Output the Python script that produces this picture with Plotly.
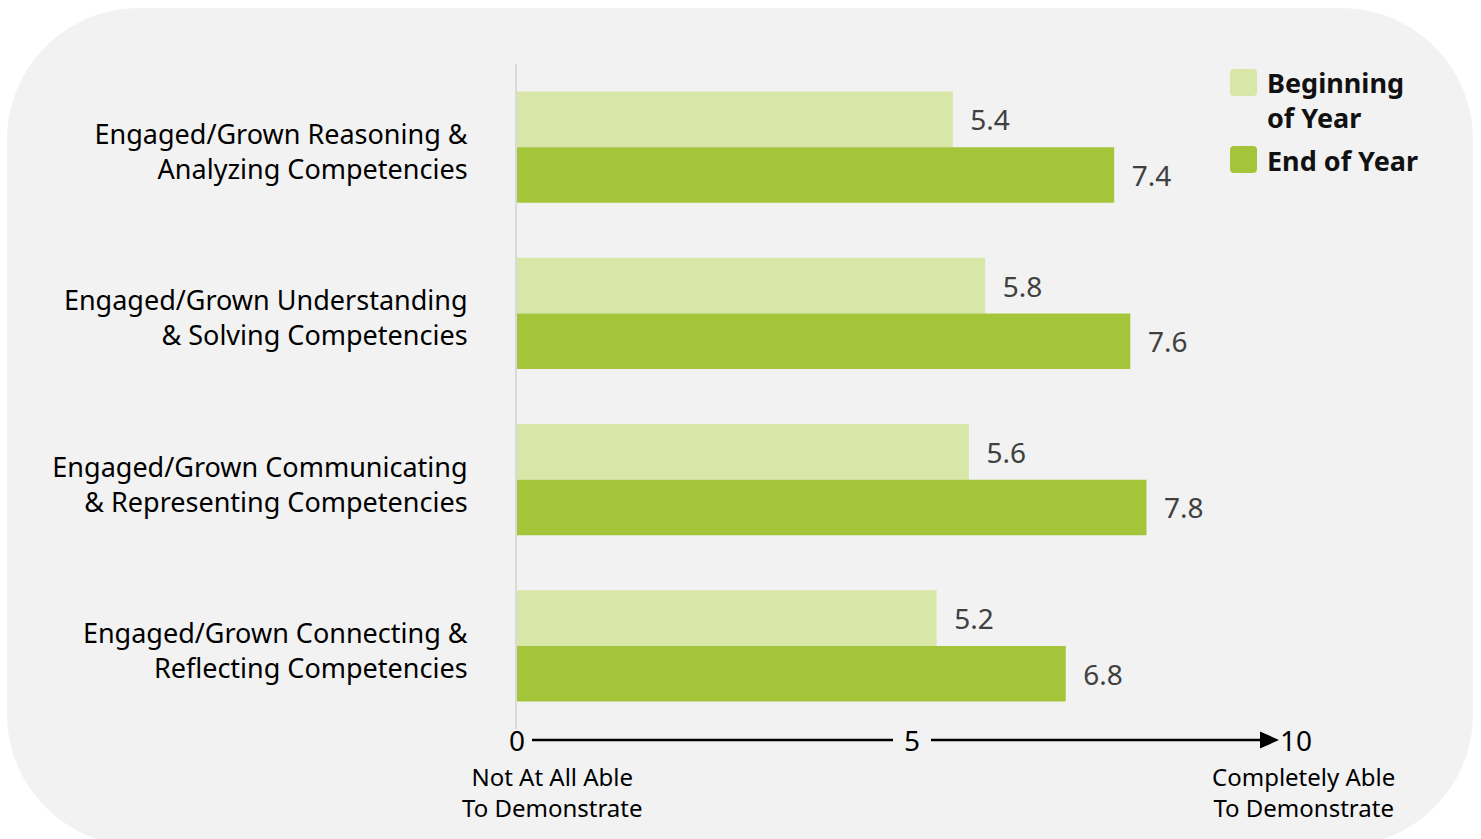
import plotly.graph_objects as go

# Survey categories (top to bottom) and mean scores on a 0-10 scale
categories = [
    "Engaged/Grown Reasoning &<br>Analyzing Competencies",
    "Engaged/Grown Understanding<br>& Solving Competencies",
    "Engaged/Grown Communicating<br>& Representing Competencies",
    "Engaged/Grown Connecting &<br>Reflecting Competencies",
]
beginning_of_year = [5.4, 5.8, 5.6, 5.2]
end_of_year = [7.4, 7.6, 7.8, 6.8]

series_names = ["Beginning<br>of Year", "End of Year"]
scale_ticks = ["0", "5", "10"]
scale_ends = ["Not At All Able<br>To Demonstrate", "Completely Able<br>To Demonstrate"]

LIGHT = "#d8e6a7"
DARK = "#a4c53a"
FONT = "Noto Sans"

W, H = 1481, 839
ML, MR, MT, MB = 517, 189, 64, 110
PW, PH = W - ML - MR, H - MT - MB
PX_PER_UNIT = 80.7


def px(x):
    return (x - ML) / PW


def py(y):
    return (H - MB - y) / PH


fig = go.Figure()
for name, vals, color in [(series_names[0], beginning_of_year, LIGHT),
                          (series_names[1], end_of_year, DARK)]:
    fig.add_trace(go.Bar(
        y=categories, x=vals, orientation="h", name=name,
        marker=dict(color=color, line=dict(width=0)),
        text=vals, texttemplate="\u00a0\u00a0%{x:.1f}",
        textposition="outside", constraintext="none", cliponaxis=False,
        textfont=dict(family=FONT, size=28, color="#404040"),
        showlegend=False, hoverinfo="skip",
    ))

shapes = []

# rounded light-grey panel behind the chart
L, R, T, B, r = 7, 1473, 8, 846, 132
k = 0.5523 * r


def P(x, y):
    return f"{px(x):.5f},{py(y):.5f}"


panel = (f"M{P(L + r, T)} L{P(R - r, T)} C{P(R - r + k, T)} {P(R, T + r - k)} {P(R, T + r)} "
         f"L{P(R, B - r)} C{P(R, B - r + k)} {P(R - r + k, B)} {P(R - r, B)} "
         f"L{P(L + r, B)} C{P(L + r - k, B)} {P(L, B - r + k)} {P(L, B - r)} "
         f"L{P(L, T + r)} C{P(L, T + r - k)} {P(L + r - k, T)} {P(L + r, T)} Z")
shapes.append(dict(type="path", path=panel, xref="paper", yref="paper",
                   fillcolor="#f2f2f2", line=dict(width=0), layer="below"))

# bottom rating scale: 0 ---- 5 ---->10
AXY = 740
shapes.append(dict(type="line", xref="paper", yref="paper", x0=px(532), x1=px(893),
                   y0=py(AXY), y1=py(AXY), line=dict(color="#000", width=2.5)))
shapes.append(dict(type="line", xref="paper", yref="paper", x0=px(931), x1=px(1263),
                   y0=py(AXY), y1=py(AXY), line=dict(color="#000", width=2.5)))
shapes.append(dict(type="path", xref="paper", yref="paper",
                   path=f"M{P(1260, AXY - 8.5)} L{P(1279, AXY)} L{P(1260, AXY + 8.5)} Z",
                   fillcolor="#000", line=dict(width=0)))

# legend swatches
SW = 27


def swatch(x0, y0, color, rr=4):
    x1, y1 = x0 + SW, y0 + SW
    return dict(type="path", xref="paper", yref="paper", fillcolor=color, line=dict(width=0),
                path=(f"M{P(x0 + rr, y0)} L{P(x1 - rr, y0)} Q{P(x1, y0)} {P(x1, y0 + rr)} "
                      f"L{P(x1, y1 - rr)} Q{P(x1, y1)} {P(x1 - rr, y1)} L{P(x0 + rr, y1)} "
                      f"Q{P(x0, y1)} {P(x0, y1 - rr)} L{P(x0, y0 + rr)} Q{P(x0, y0)} {P(x0 + rr, y0)} Z"))


shapes.append(swatch(1230, 69, LIGHT))
shapes.append(swatch(1230, 146, DARK))

annotations = []
for txt, xpos in zip(scale_ticks, [517, 912, 1296]):
    annotations.append(dict(text=txt, x=px(xpos), y=py(AXY), xref="paper", yref="paper",
                            xanchor="center", yanchor="middle", showarrow=False,
                            font=dict(family=FONT, size=28, color="#000")))
for txt, xpos in zip(scale_ends, [552, 1303]):
    annotations.append(dict(text=txt, x=px(xpos), y=py(758), xref="paper", yref="paper",
                            xanchor="center", yanchor="top", showarrow=False,
                            font=dict(family=FONT, size=24, color="#000")))
for txt, ytop in zip(series_names, [62, 140]):
    annotations.append(dict(text=f"<b>{txt}</b>", x=px(1265), y=py(ytop), xref="paper", yref="paper",
                            xanchor="left", yanchor="top", align="left", showarrow=False,
                            font=dict(family=FONT, size=27, color="#111")))

fig.update_layout(
    width=W, height=H,
    margin=dict(l=ML, r=MR, t=MT, b=MB, autoexpand=False),
    paper_bgcolor="white", plot_bgcolor="rgba(0,0,0,0)",
    barmode="group", bargap=0.33, bargroupgap=0,
    shapes=shapes, annotations=annotations,
    xaxis=dict(range=[0, PW / PX_PER_UNIT], showgrid=False, zeroline=False,
               showline=False, showticklabels=False, fixedrange=True),
    yaxis=dict(autorange="reversed", showgrid=False, zeroline=False,
               showline=True, linecolor="#d9d9d9", linewidth=2,
               ticks="", ticklabelstandoff=42, ticklabelshift=-5,
               tickfont=dict(family=FONT, size=27, color="#000"), fixedrange=True),
    font=dict(family=FONT),
)

fig.write_html("out.html", config={"displayModeBar": False})
